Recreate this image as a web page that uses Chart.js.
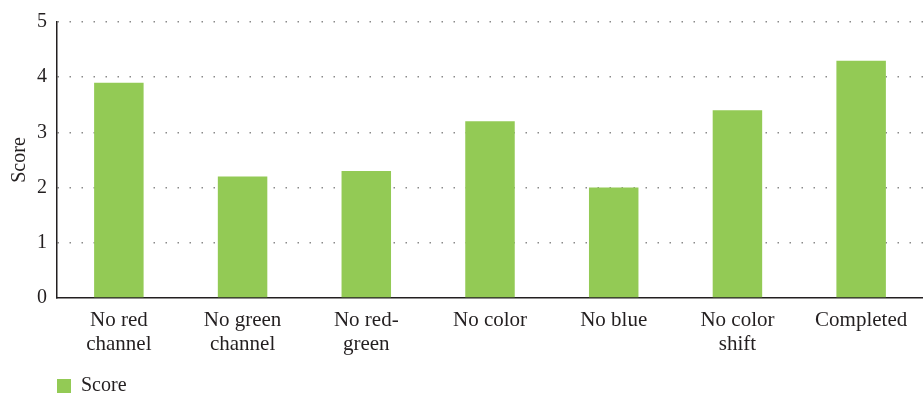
<!DOCTYPE html>
<html>
<head>
<meta charset="utf-8">
<script src="https://cdn.jsdelivr.net/npm/chart.js@4/dist/chart.umd.min.js"></script>
<style>
  html, body { margin: 0; padding: 0; background: #ffffff; }
  #wrap { width: 923px; height: 396px; position: relative; }
</style>
</head>
<body>
<div id="wrap"><canvas id="chart"></canvas></div>
<script>
// Categories (multi-line labels) and the score of each variant
const categories = [
  ['No red', 'channel'],
  ['No green', 'channel'],
  ['No red-', 'green'],
  ['No color'],
  ['No blue'],
  ['No color', 'shift'],
  ['Completed']
];
const scores = [3.9, 2.2, 2.3, 3.2, 2.0, 3.4, 4.3];
const yTicks = [0, 1, 2, 3, 4, 5];
const seriesName = 'Score';

const TEXT = '#231f20';
const GREEN = '#93ca55';
const FONT = 'Liberation Serif, Times New Roman, serif';

// Lines the legend up with the left edge of the plot area and nudges it down
const legendShift = {
  id: 'legendShift',
  afterLayout(chart) {
    if (chart.legend) {
      chart.legend.left = chart.chartArea.left;
      chart.legend.top += 10;
    }
  }
};

new Chart(document.getElementById('chart'), {
  type: 'bar',
  data: {
    labels: categories,
    datasets: [{
      label: seriesName,
      data: scores,
      backgroundColor: GREEN,
      borderWidth: 0,
      barPercentage: 0.4,
      categoryPercentage: 1.0
    }]
  },
  plugins: [legendShift],
  options: {
    responsive: true,
    maintainAspectRatio: false,
    animation: false,
    layout: { padding: { top: 20, right: 0, bottom: 0, left: 0 } },
    font: { family: FONT },
    plugins: {
      legend: {
        position: 'bottom',
        align: 'start',
        labels: {
          color: TEXT,
          font: { family: FONT, size: 20 },
          boxWidth: 14,
          boxHeight: 14,
          padding: 0
        }
      },
      tooltip: { enabled: false }
    },
    scales: {
      x: {
        grid: { display: false, drawTicks: false },
        border: { display: true, color: TEXT, width: 1.5 },
        ticks: {
          color: TEXT,
          font: { family: FONT, size: 21, lineHeight: 1.143 },
          padding: 10,
          maxRotation: 0,
          autoSkip: false
        },
        afterFit(scale) { scale.height = 68; }
      },
      y: {
        min: yTicks[0],
        max: yTicks[yTicks.length - 1],
        afterBuildTicks(scale) {
          scale.ticks = yTicks.map(v => ({ value: v }));
        },
        grid: {
          drawTicks: false,
          color: ctx => (ctx.tick && ctx.tick.value === 0) ? 'rgba(0,0,0,0)' : '#8a8a8a',
          lineWidth: 1.5
        },
        border: { display: true, color: TEXT, width: 1.5, dash: [1.5, 10.5] },
        ticks: {
          color: TEXT,
          font: { family: FONT, size: 20 },
          padding: 10
        },
        title: {
          display: true,
          text: 'Score',
          color: TEXT,
          font: { family: FONT, size: 20 },
          padding: { top: 8, bottom: 0 }
        },
        afterFit(scale) { scale.width = 57; }
      }
    }
  }
});
</script>
</body>
</html>
